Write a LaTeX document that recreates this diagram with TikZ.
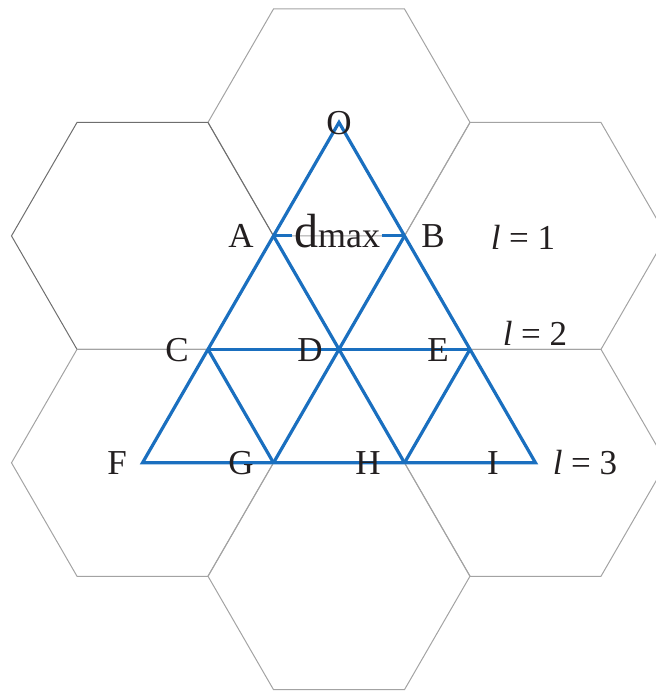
\documentclass[tikz,border=0pt]{standalone}
\usepackage{fontspec}
\setmainfont{Liberation Serif}
\usetikzlibrary{calc}
\definecolor{cellblue}{HTML}{1A6FBF}
\definecolor{cellgray}{HTML}{A3A3A3}
\definecolor{celldark}{HTML}{6E6E6E}
\definecolor{ink}{HTML}{231F20}
\newcommand{\hexcell}[2][]{%
  \draw[hexline,#1] (#2) +(0:131) -- +(60:131) -- +(120:131) -- +(180:131)
    -- +(240:131) -- +(300:131) -- cycle;}
\tikzset{
  hexline/.style={draw=cellgray,line width=0.5pt},
  triline/.style={draw=cellblue,line width=1.6pt},
  ptlabel/.style={inner sep=0pt,text=ink,font=\fontsize{17.5}{19}\selectfont},
  levellabel/.style={ptlabel}
}

\begin{document}
\begin{tikzpicture}[x=0.5pt,y=-0.5pt]
  \useasboundingbox (0,0) rectangle (656,692);
  % cell centres
  \coordinate (ctop) at (339,122.4);
  \coordinate (cul) at (142.5,235.9);
  \coordinate (cur) at (535.5,235.9);
  \coordinate (cll) at (142.5,462.8);
  \coordinate (clr) at (535.5,462.8);
  \coordinate (cbot) at (339,576.2);

  % hexagonal cells
  \begin{scope}
    \clip (0,0) rectangle (656,692);
    \hexcell{ctop}
    \hexcell[draw=celldark]{cul}
    \hexcell{cur}
    \hexcell{cll}
    \hexcell{clr}
    \hexcell{cbot}
  \end{scope}

  % triangle points
  \coordinate (O) at (ctop);
  \coordinate (F) at (cll);
  \coordinate (I) at (clr);
  \coordinate (A) at ($(O)!1/3!(F)$);
  \coordinate (C) at ($(O)!2/3!(F)$);
  \coordinate (B) at ($(O)!1/3!(I)$);
  \coordinate (E) at ($(O)!2/3!(I)$);
  \coordinate (G) at ($(F)!1/3!(I)$);
  \coordinate (H) at ($(F)!2/3!(I)$);
  \coordinate (D) at ($(C)!1/2!(E)$);

  \node[inner sep=0.6pt,anchor=base,text=ink] (dmax) at (337,247)
    {{\fontsize{24}{26}\selectfont d}{\fontsize{18}{20}\selectfont max}};

  \draw[triline] (O) -- (F) -- (I) -- cycle;
  \draw[triline] (A) -- (A -| dmax.west);
  \draw[triline] (dmax.east |- B) -- (B);
  \draw[triline] (C) -- (E);
  \draw[triline] (A) -- (H);
  \draw[triline] (B) -- (G);
  \draw[triline] (C) -- (G);
  \draw[triline] (E) -- (H);

  % point labels
  \node[ptlabel] (lO) at (339,123) {O};
  \node[ptlabel] (lA) at (241,236) {A};
  \node[ptlabel] (lB) at (433,236) {B};
  \node[ptlabel] (lC) at (177,350) {C};
  \node[ptlabel] (lD) at (310,350) {D};
  \node[ptlabel] (lE) at (438,350) {E};
  \node[ptlabel] (lF) at (117,463) {F};
  \node[ptlabel] (lG) at (241,463) {G};
  \node[ptlabel] (lH) at (368,463) {H};
  \node[ptlabel] (lI) at (493,463) {I};

  % levels
  \node[levellabel] (lev1) at (523,237) {\textit{l} = 1};
  \node[levellabel] (lev2) at (535,333) {\textit{l} = 2};
  \node[levellabel] (lev3) at (585,463) {\textit{l} = 3};
\end{tikzpicture}
\end{document}
